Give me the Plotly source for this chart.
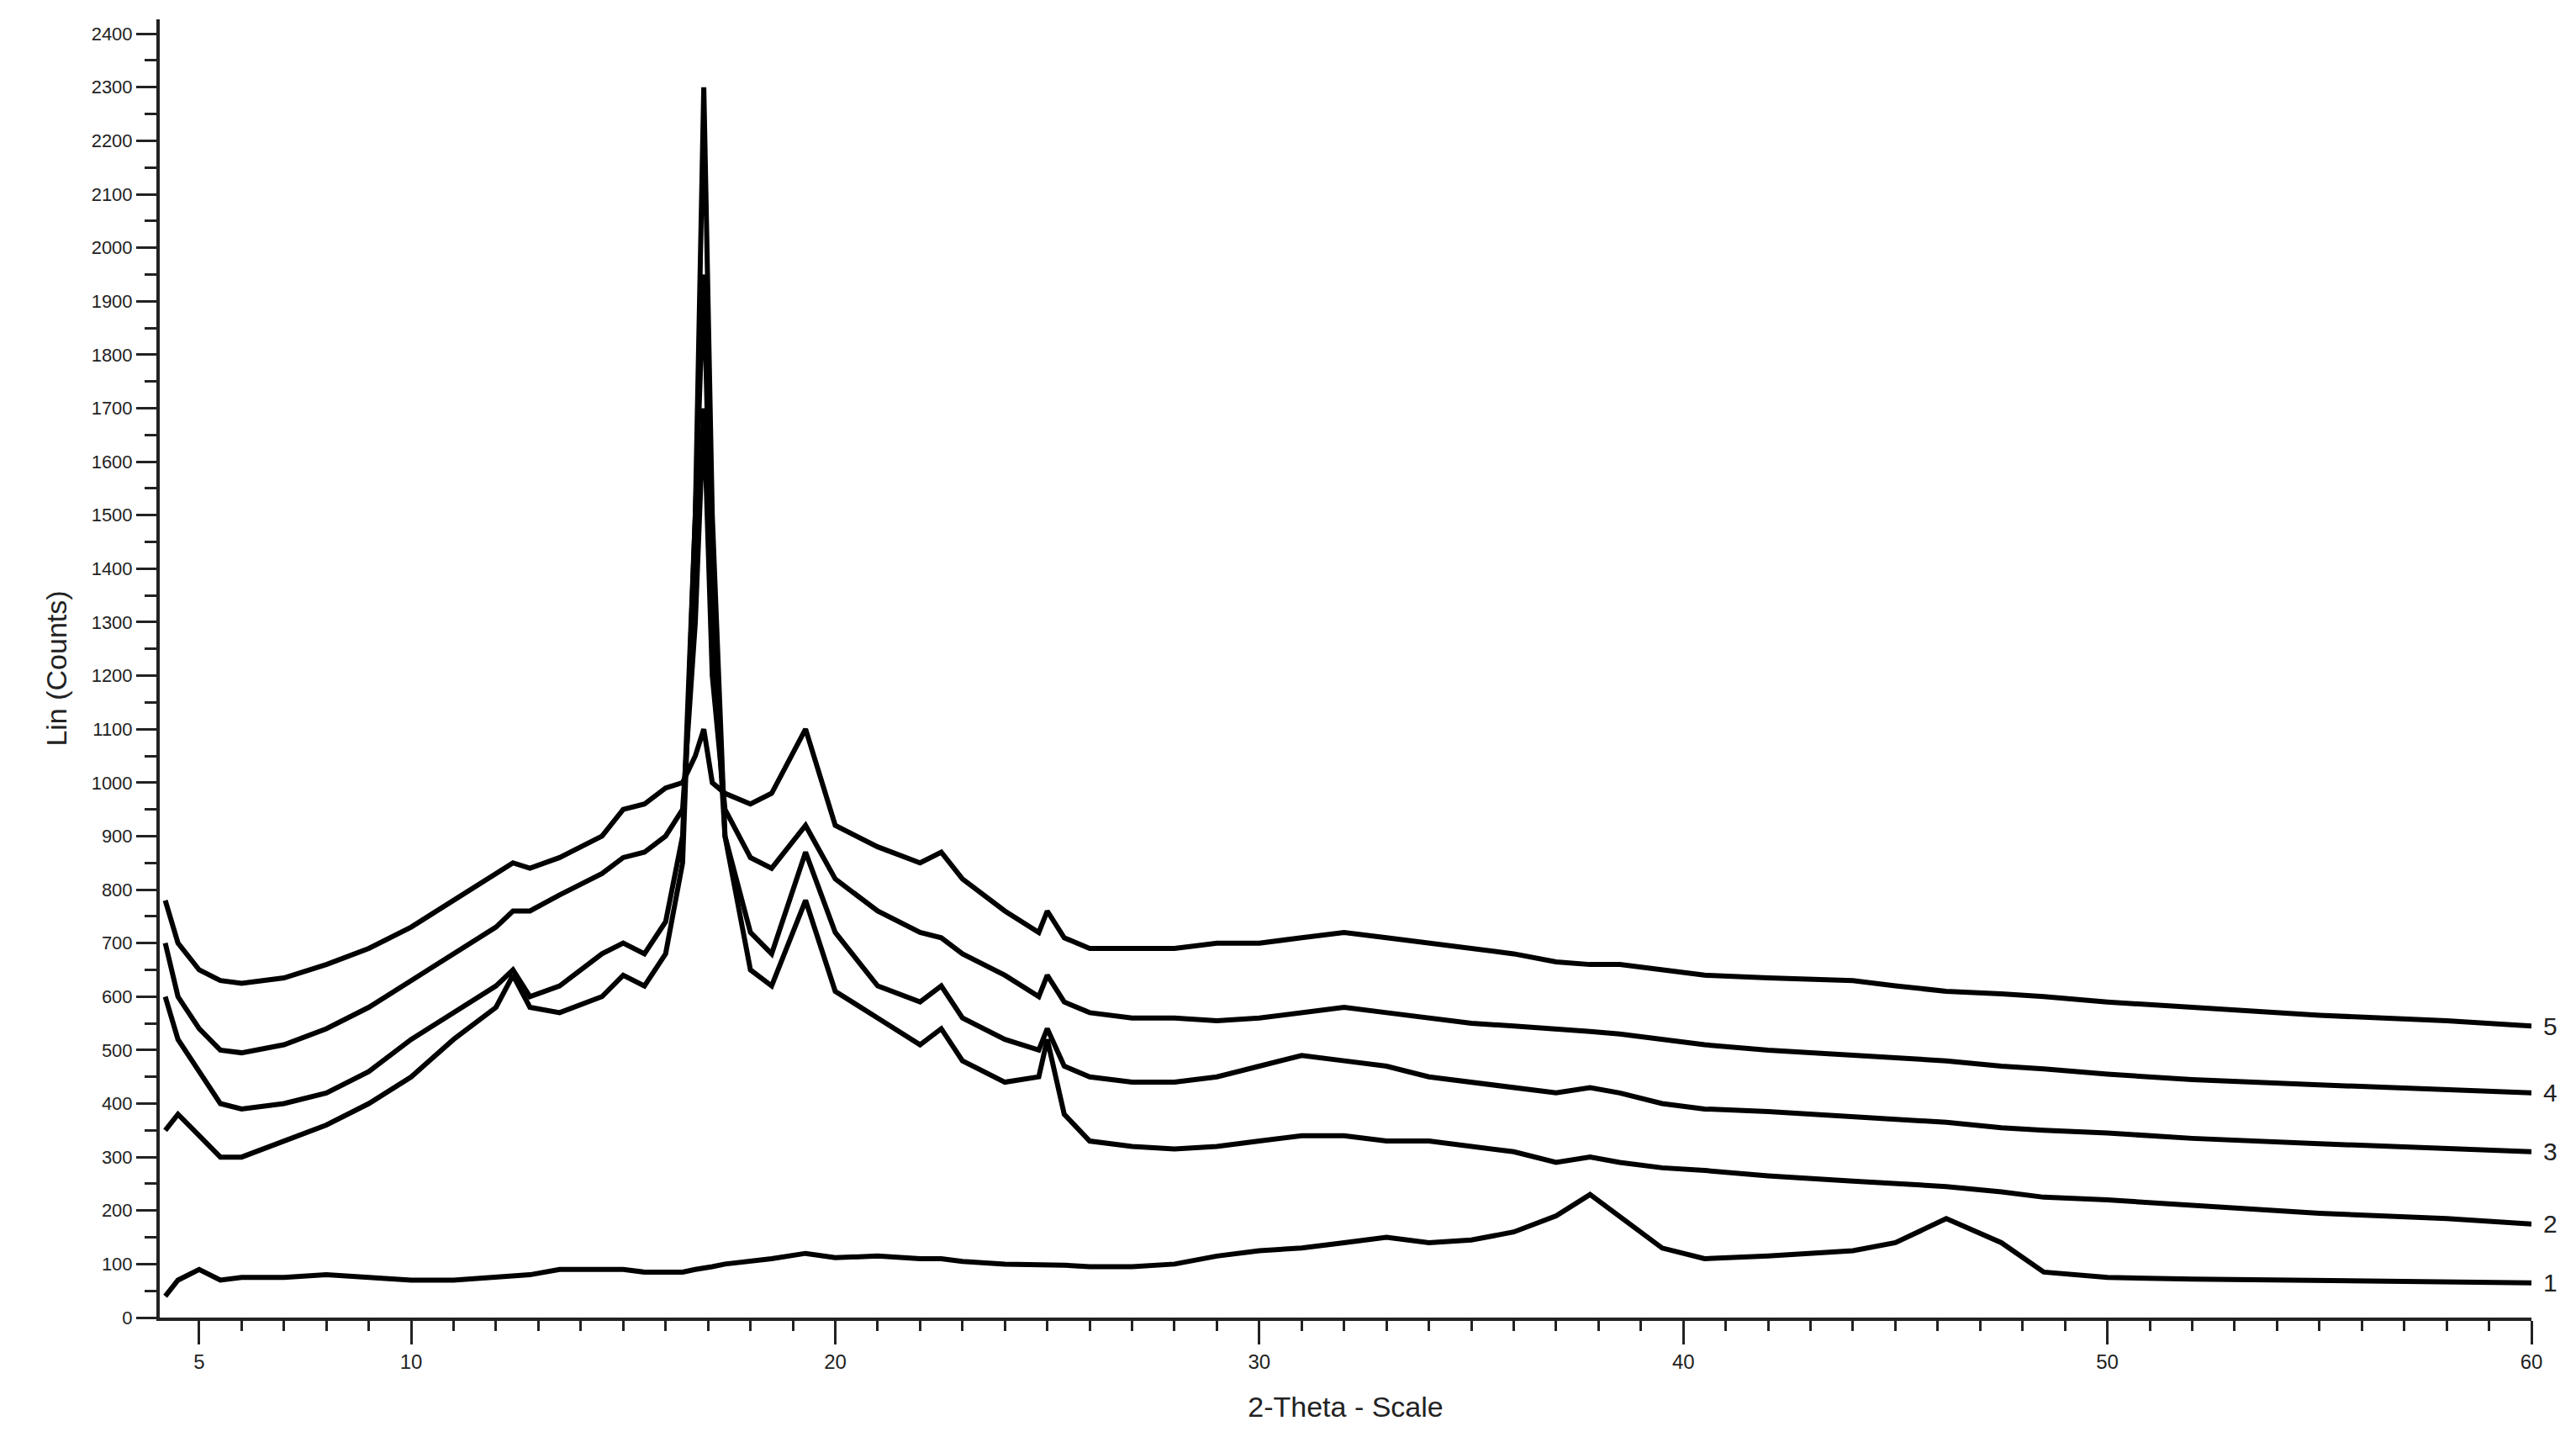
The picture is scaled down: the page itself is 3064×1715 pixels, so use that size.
import plotly.graph_objects as go

x = [4.2,4.5,5,5.5,6,7,8,9,10,11,12,12.4,12.8,13.5,14.5,15,15.5,16,16.4,16.7,16.9,17.1,17.4,18,18.5,19.3,20,21,22,22.5,23,24,24.8,25,25.4,26,27,28,29,30,31,32,33,34,35,36,37,37.8,38.5,39.5,40.5,42,44,45,46.2,47.5,48.5,50,52,55,58,60]

s1 = [40,70,90,70,75,75,80,75,70,70,75,78,80,90,90,90,85,85,85,90,92,95,100,105,110,120,112,115,110,110,105,100,100,100,98,95,95,100,115,125,130,140,150,140,145,160,190,230,190,130,110,115,125,140,185,140,85,75,72,70,68,65]
s2 = [350,380,340,300,300,330,360,400,450,520,580,640,580,570,600,640,620,680,850,1500,2300,1500,900,650,620,780,610,560,510,540,480,440,450,520,380,330,320,315,320,330,340,340,330,330,320,310,290,300,290,280,275,265,255,250,245,235,225,220,210,195,185,175]
s3 = [600,520,460,400,390,400,420,460,520,570,620,650,600,620,680,700,680,740,900,1500,1950,1300,900,720,680,870,720,620,590,620,560,520,500,540,470,450,440,440,450,470,490,480,470,450,440,430,420,430,420,400,390,385,375,370,365,355,350,345,335,325,315,310]
s4 = [700,600,540,500,495,510,540,580,630,680,730,760,760,790,830,860,870,900,950,1300,1700,1200,950,860,840,920,820,760,720,710,680,640,600,640,590,570,560,560,555,560,570,580,570,560,550,545,540,535,530,520,510,500,490,485,480,470,465,455,445,435,425,420]
s5 = [780,700,650,630,625,635,660,690,730,780,830,850,840,860,900,950,960,990,1000,1050,1100,1000,980,960,980,1100,920,880,850,870,820,760,720,760,710,690,690,690,700,700,710,720,710,700,690,680,665,660,660,650,640,635,630,620,610,605,600,590,580,565,555,545]

series = [("1", s1), ("2", s2), ("3", s3), ("4", s4), ("5", s5)]
x_ticks = [5, 10, 20, 30, 40, 50, 60]

fig = go.Figure()
for name, ys in series:
    fig.add_trace(go.Scatter(x=x, y=ys, mode="lines", name=name,
                             line=dict(color="black", width=6)))
    fig.add_annotation(x=x[-1], y=ys[-1], text=name, showarrow=False,
                       xanchor="left", xshift=12,
                       font=dict(size=30, color="#222", family="Liberation Sans"))

fig.update_layout(
    width=3064, height=1715, showlegend=False,
    plot_bgcolor="white", paper_bgcolor="white",
    margin=dict(l=182, r=61, t=15, b=156),
    font=dict(family="Liberation Sans", color="#222"),
)
fig.update_xaxes(range=[4.07, 60], tickvals=x_ticks, ticks="outside", ticklen=28,
                 tickwidth=3, tickcolor="#222", showline=True, linewidth=4,
                 linecolor="#222", showgrid=False, zeroline=False,
                 tickfont=dict(size=24),
                 minor=dict(dtick=1, ticks="outside", ticklen=12, tickwidth=3, tickcolor="#222"),
                 title=dict(text="2-Theta - Scale", font=dict(size=34), standoff=30))
fig.update_yaxes(range=[0, 2427], dtick=100, ticks="outside", ticklen=24,
                 tickwidth=3, tickcolor="#222", showline=True, linewidth=4,
                 linecolor="#222", showgrid=False, zeroline=False,
                 tickfont=dict(size=22),
                 minor=dict(dtick=50, ticks="outside", ticklen=14, tickwidth=3, tickcolor="#222"),
                 title=dict(text="Lin (Counts)", font=dict(size=34), standoff=20))
fig.write_html("out.html")
